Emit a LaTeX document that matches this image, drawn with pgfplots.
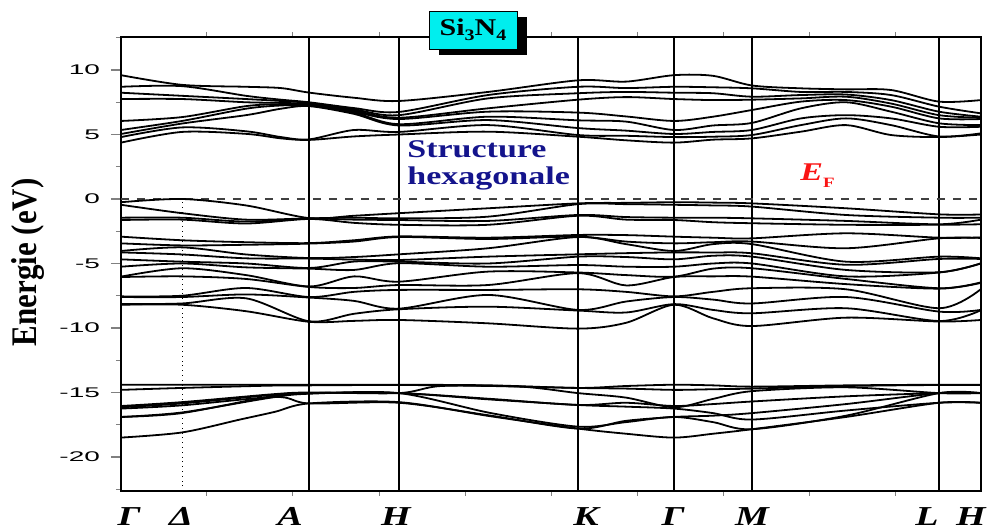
\documentclass[border=0pt]{standalone}
\usepackage{fontspec}
\setmainfont{Liberation Serif}
\setsansfont{Liberation Sans}
\usepackage{pgfplots}
\pgfplotsset{compat=1.18}
\usepackage{pgfplotstable}
\usetikzlibrary{calc}
\definecolor{navytext}{RGB}{20,20,140}
\definecolor{boxcyan}{RGB}{0,238,238}
\definecolor{efred}{RGB}{250,20,20}

\pgfplotstableread{
x v1 v2 v3 v4 v5 v6 v7 v8 v9 v10 v11 v12 v13 v14 v15 v16
0 -0.25 -0.45 -1.45 -1.63 -2.92 -3.44 -4.03 -4.14 -4.68 -5.25 -6.02 -6.05 -7.55 -7.6 -8.15 -8.2
61 0.0 -1.1 -1.45 -1.6 -3.2 -3.6 -3.75 -4.3 -4.86 -5.0 -5.37 -6.0 -7.5 -7.6 -8.1 -8.2
125 -0.5 -1.6 -1.75 -1.9 -3.35 -3.55 -4.3 -4.6 -5.0 -5.3 -5.9 -6.2 -6.9 -7.4 -7.7 -8.7
188 -1.48 -1.5 -1.52 -1.55 -3.42 -3.46 -4.58 -4.62 -5.35 -5.4 -6.78 -6.82 -7.6 -7.64 -9.48 -9.52
233 -1.3 -1.45 -1.6 -1.85 -3.2 -3.3 -4.5 -4.7 -4.85 -5.5 -6.0 -6.9 -7.2 -7.9 -8.9 -9.45
278 -1.1 -1.5 -1.63 -2.0 -2.9 -2.95 -4.29 -4.73 -4.86 -4.98 -6.41 -6.67 -7.05 -8.5 -8.55 -9.38
367 -0.72 -1.37 -1.7 -2.0 -3.0 -3.1 -3.82 -4.47 -5.0 -5.25 -5.63 -6.67 -7.05 -7.44 -8.35 -9.64
457 -0.34 -0.4 -1.24 -1.3 -2.79 -2.92 -2.95 -4.29 -4.47 -5.12 -5.7 -5.75 -7.0 -8.6 -8.65 -10.05
505 -0.3 -0.4 -1.4 -1.6 -2.8 -3.3 -3.5 -4.2 -4.5 -5.25 -5.9 -6.7 -7.2 -7.95 -8.8 -9.6
553 -0.25 -0.45 -1.45 -1.63 -2.92 -3.44 -4.03 -4.14 -4.68 -5.25 -6.02 -6.05 -7.55 -7.6 -8.15 -8.2
592 -0.28 -0.5 -1.45 -1.8 -3.0 -3.35 -3.5 -4.15 -4.4 -5.0 -5.4 -6.0 -7.2 -7.8 -8.6 -9.25
631 -0.34 -0.59 -1.5 -1.88 -3.05 -3.3 -3.5 -4.21 -4.47 -5.0 -5.37 -6.02 -6.92 -8.1 -8.86 -9.85
725 -0.72 -1.24 -1.7 -2.0 -2.66 -3.82 -4.86 -5.1 -5.5 -6.0 -6.2 -6.6 -7.0 -7.6 -8.47 -9.2
818 -1.19 -1.45 -1.96 -2.0 -3.0 -3.05 -4.47 -4.65 -5.68 -5.7 -6.92 -6.95 -8.47 -8.73 -9.46 -9.5
860 -1.2 -1.45 -1.6 -1.96 -2.98 -3.02 -4.6 -4.65 -4.98 -5.0 -6.46 -6.5 -6.98 -8.6 -8.62 -9.38
}\valence

\pgfplotstableread{
x c1 c2 c3 c4 c5 c6 c7 c8 c9
0 9.6 8.7 8.24 7.75 6.05 5.35 5.04 4.8 4.37
61 8.85 8.75 8.0 7.75 6.35 6.05 5.85 5.55 5.2
125 8.7 8.0 7.75 7.5 7.2 7.0 6.5 5.25 5.05
160 8.6 7.7 7.6 7.45 7.35 7.25 7.0 4.8 4.7
188 8.25 7.5 7.45 7.35 7.3 7.25 7.2 4.62 4.58
233 7.85 7.05 6.95 6.85 6.75 6.7 6.6 5.35 4.85
278 7.6 6.75 6.5 6.3 6.2 5.8 5.7 5.2 5.0
367 8.3 8.06 7.8 7.03 6.77 6.38 6.12 5.73 5.22
457 9.2 8.7 8.2 7.7 6.7 6.1 5.5 4.96 4.83
505 9.1 8.6 8.3 7.9 6.4 6.0 5.3 4.9 4.55
553 9.6 8.7 8.24 7.75 6.05 5.35 5.04 4.8 4.37
592 9.55 8.66 8.2 7.67 6.38 5.7 5.2 4.83 4.6
631 8.8 8.58 7.93 7.7 6.9 5.9 5.35 4.96 4.7
680 8.58 8.3 8.06 7.8 7.55 7.03 6.25 5.73 5.22
725 8.5 8.3 8.1 7.93 7.67 7.5 6.5 6.25 5.73
770 8.45 8.06 7.67 7.4 7.16 6.77 6.25 5.73 4.96
818 7.55 7.16 6.77 6.5 6.25 5.87 5.6 4.85 4.8
860 7.67 6.64 6.38 6.3 6.2 5.73 5.6 5.09 5.0
}\conduction

\pgfplotsset{band/.style={black, line width=0.9pt, smooth, tension=0.5, no markers}}
\newcommand{\klab}[2]{\node[anchor=base, font=\bfseries\itshape\fontsize{19}{19}\selectfont, inner sep=0pt] at (axis cs:#1,-22.64) [yshift=-17.5pt] {\scalebox{1}[0.72]{#2}};}

\begin{document}
\begin{tikzpicture}
\begin{axis}[
  name=ax, scale only axis, width=430pt, height=227pt,
  xmin=0, xmax=860, ymin=-22.64, ymax=12.56,
  clip mode=individual,
  axis line style={line width=0.8pt},
  tick align=outside,
  major tick length=5pt, minor tick length=2.5pt,
  ytick={-20,-15,-10,-5,0,5,10},
  yticklabels={\scalebox{1}[0.5]{-20},\scalebox{1}[0.5]{-15},\scalebox{1}[0.5]{-10},\scalebox{1}[0.5]{-5},\scalebox{1}[0.5]{0},\scalebox{1}[0.5]{5},\scalebox{1}[0.5]{10}},
  minor ytick={-22.5,-17.5,-12.5,-7.5,-2.5,2.5,7.5,12.5},
  ytick pos=left,
  yticklabel style={font=\sffamily\fontsize{14}{14}\selectfont, xshift=-2pt},
  xtick={188,278,457,553,631,818}, xticklabels={},
  minor xtick={86,172,258,344,430,516,602,688,774},
  major x tick style={draw=none},
  minor tick style={line width=0.5pt},
  major tick style={line width=0.6pt},
  xmajorgrids, major x grid style={black, line width=0.6pt},
]
% dotted Delta line
\addplot[black, line width=0.4pt, dotted] coordinates {(61,-22.64) (61,0)};
% Fermi level
\addplot[black!75, line width=0.6pt, dash pattern=on 4pt off 4pt] coordinates {(0,0) (860,0)};

\pgfplotsinvokeforeach{1,...,16}{\addplot[band] table[x=x,y=v#1]{\valence};}
\pgfplotsinvokeforeach{1,...,9}{\addplot[band] table[x=x,y=c#1]{\conduction};}

% lower (N 2s) bands
\addplot[band] coordinates {(0,-14.4) (61,-14.4) (150,-14.4) (188,-14.4) (278,-14.4) (370,-14.45) (457,-14.65) (505,-14.5) (553,-14.4) (592,-14.45) (631,-14.55) (725,-14.45) (818,-14.4) (860,-14.4)};
\addplot[band] coordinates {(0,-14.8) (61,-14.65) (150,-14.47) (188,-14.45) (278,-14.42) (370,-14.5) (457,-14.65) (505,-14.7) (553,-14.8) (592,-14.75) (631,-14.7) (725,-14.5) (818,-14.42) (860,-14.42)};
\addplot[band] coordinates {(0,-16.05) (61,-15.75) (150,-15.15) (188,-15.0) (278,-15.05) (320,-14.5) (400,-14.55) (457,-15.05) (505,-15.4) (553,-16.15) (592,-15.5) (631,-14.9) (725,-14.6) (818,-15.05) (860,-15.05)};
\addplot[band] coordinates {(0,-16.15) (61,-15.85) (150,-15.2) (188,-15.05) (278,-15.05) (370,-15.5) (457,-15.97) (505,-15.8) (553,-16.05) (592,-15.9) (631,-15.7) (725,-15.3) (818,-15.05) (860,-15.05)};
\addplot[band] coordinates {(0,-16.25) (61,-16.0) (155,-15.35) (188,-15.85) (278,-15.8) (370,-16.8) (457,-17.8) (505,-17.2) (553,-16.9) (592,-16.8) (631,-16.6) (725,-15.9) (818,-15.05) (860,-15.05)};
\addplot[band] coordinates {(0,-16.9) (61,-16.6) (150,-15.3) (188,-15.05) (278,-15.05) (370,-15.55) (457,-15.97) (505,-16.1) (553,-16.25) (592,-16.6) (631,-17.1) (725,-16.4) (818,-15.8) (860,-15.8)};
\addplot[band] coordinates {(0,-18.5) (61,-18.1) (119,-17.1) (154,-16.5) (188,-15.85) (278,-15.75) (370,-16.85) (457,-17.8) (505,-18.2) (553,-18.5) (592,-18.2) (631,-17.85) (725,-16.9) (818,-15.8) (860,-15.8)};
\addplot[band] coordinates {(0,-16.9) (61,-16.55) (150,-15.4) (188,-15.1) (278,-15.05) (370,-16.6) (457,-17.65) (505,-17.3) (553,-16.9) (592,-17.3) (631,-17.85) (725,-16.8) (818,-15.05) (860,-15.05)};

% annotations
\node[anchor=base west, font=\bfseries\fontsize{17}{17}\selectfont, text=navytext, inner sep=0pt] at (axis cs:286,3.18) {\scalebox{1}[0.75]{Structure}};
\node[anchor=base west, font=\bfseries\fontsize{17}{17}\selectfont, text=navytext, inner sep=0pt] at (axis cs:286,1.09) {\scalebox{1}[0.75]{hexagonale}};
\node[anchor=base west, text=efred, inner sep=0pt] at (axis cs:679,1.47) {\scalebox{1}[0.75]{\fontsize{17}{17}\selectfont\bfseries\itshape E\raisebox{-5.3pt}{\fontsize{9.5}{9.5}\selectfont\upshape F}}};

% y label
\node[xshift=-46.5pt, rotate=90, font=\bfseries\fontsize{18}{18}\selectfont, inner sep=0pt] at (axis cs:0,-4.9) {\scalebox{0.86}[1]{Energie (eV)}};

% k-point labels
\klab{8}{Γ}
\klab{60}{Δ}
\klab{169}{A}
\klab{275}{H}
\klab{465}{K}
\klab{552}{Γ}
\klab{631}{M}
\klab{806}{L}
\klab{850}{H}
\end{axis}
% title box with shadow
\node[fill=black, minimum width=44pt, minimum height=19pt, inner sep=0pt] at ($(ax.north west)+(181pt,0.5pt)$) {};
\node[fill=boxcyan, draw=black, line width=0.4pt, minimum width=44pt, minimum height=19pt, inner sep=0pt, font=\bfseries\fontsize{15}{15}\selectfont] at ($(ax.north west)+(176pt,3.5pt)$) {\scalebox{1}[0.8]{Si\raisebox{-3pt}{\fontsize{10}{10}\selectfont 3}N\raisebox{-3pt}{\fontsize{10}{10}\selectfont 4}}};
\pgfresetboundingbox
\path[use as bounding box] ($(ax.south west)+(-60.5pt,-19.5pt)$) rectangle ($(ax.north east)+(5pt,18.5pt)$);
\end{tikzpicture}
\end{document}
